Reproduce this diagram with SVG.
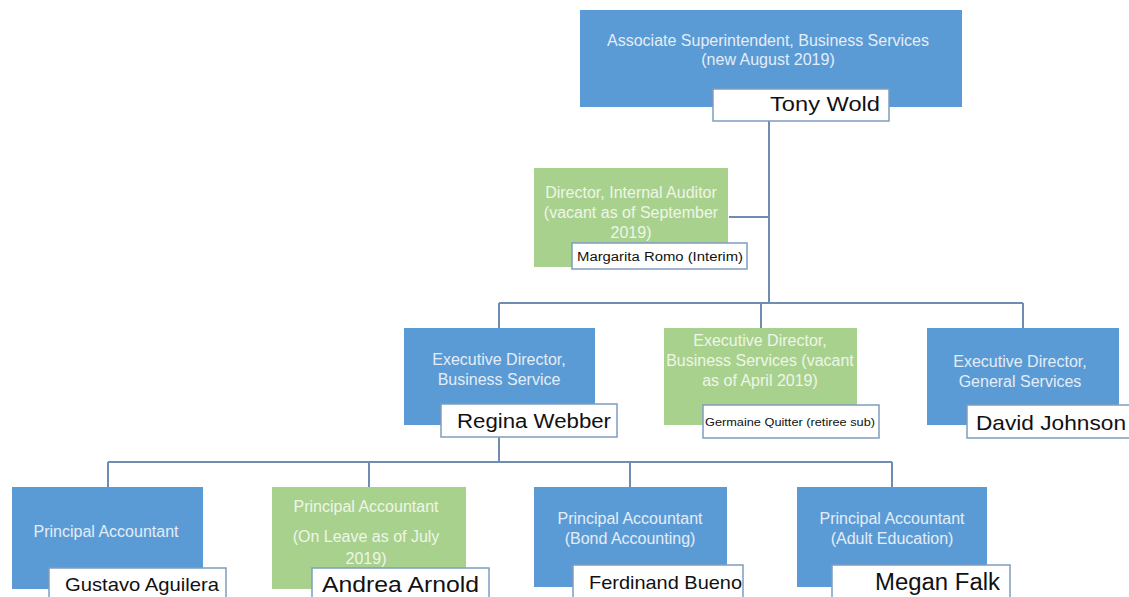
<svg xmlns="http://www.w3.org/2000/svg" width="1129" height="597" viewBox="0 0 1129 597">
<style>
.blue{fill:#5B9BD5}
.green{fill:#A9D18E}
.nb{fill:#fff;stroke:#7F9DBF;stroke-width:1.5}
.t{font-family:"Liberation Sans",Arial,sans-serif;font-size:16px;text-anchor:middle}
.tb{fill:#E4EDF7}
.tg{fill:#EEF6E8}
.n{font-family:"Liberation Sans",Arial,sans-serif;fill:#111}
.c{fill:none;stroke:#6F8DB3;stroke-width:2}
</style>
<rect width="1129" height="597" fill="#fff"/>
<g id="connectors">
<path class="c" d="M769 121V303M729 217H769M499 303H1023M499 303V328M761 303V328M1023 303V328"/>
<path class="c" d="M499 437V462M108 462H892M108 462V487M369 462V487M630 462V487M892 462V487"/>
</g>
<g id="assoc">
<rect class="blue" x="580" y="10" width="382" height="97"/>
<text class="t tb" x="768" y="46">Associate Superintendent,  Business Services</text>
<text class="t tb" x="768" y="65">(new August 2019)</text>
<rect class="nb" x="713" y="89" width="176" height="32"/>
<text class="n" x="770" y="111" font-size="21" textLength="110" lengthAdjust="spacingAndGlyphs">Tony Wold</text>
</g>
<g id="auditor">
<rect class="green" x="534" y="168" width="194" height="99"/>
<text class="t tg" x="631" y="198" font-size="18.5">Director, Internal Auditor</text>
<text class="t tg" x="631" y="218" font-size="18.5">(vacant as of September</text>
<text class="t tg" x="631" y="238" font-size="18.5">2019)</text>
<rect class="nb" x="572" y="243" width="175" height="26"/>
<text class="n" x="577" y="261" font-size="12.5" textLength="166" lengthAdjust="spacingAndGlyphs">Margarita Romo (Interim)</text>
</g>
<g id="exec-business">
<rect class="blue" x="404" y="328" width="191" height="97"/>
<text class="t tb" x="499" y="365">Executive Director,</text>
<text class="t tb" x="499" y="385">Business Service</text>
<rect class="nb" x="441" y="404" width="176" height="33"/>
<text class="n" x="457" y="428" font-size="20" textLength="154" lengthAdjust="spacingAndGlyphs">Regina Webber</text>
</g>
<g id="exec-business-vacant">
<rect class="green" x="664" y="328" width="193" height="97"/>
<text class="t tg" x="760" y="346">Executive Director,</text>
<text class="t tg" x="760" y="366" font-size="17">Business Services  (vacant</text>
<text class="t tg" x="760" y="386" font-size="17">as of April 2019)</text>
<rect class="nb" x="703" y="405" width="176" height="33"/>
<text class="n" x="705" y="426" font-size="10" textLength="170" lengthAdjust="spacingAndGlyphs" fill="#444">Germaine Quitter (retiree sub)</text>
</g>
<g id="exec-general">
<rect class="blue" x="927" y="328" width="192" height="97"/>
<text class="t tb" x="1020" y="367">Executive Director,</text>
<text class="t tb" x="1020" y="387">General Services</text>
<rect class="nb" x="967" y="405" width="170" height="33"/>
<text class="n" x="976" y="430" font-size="21" textLength="150" lengthAdjust="spacingAndGlyphs">David Johnson</text>
</g>
<g id="pa-gustavo">
<rect class="blue" x="12" y="487" width="191" height="102"/>
<text class="t tb" x="106" y="537" font-size="17">Principal Accountant</text>
<rect class="nb" x="49" y="568" width="177" height="34"/>
<text class="n" x="65" y="591" font-size="19" textLength="154" lengthAdjust="spacingAndGlyphs">Gustavo Aguilera</text>
</g>
<g id="pa-andrea">
<rect class="green" x="272" y="487" width="194" height="102"/>
<text class="t tg" x="366" y="512" font-size="17">Principal Accountant</text>
<text class="t tg" x="366" y="542" font-size="17">(On Leave as of July</text>
<text class="t tg" x="366" y="564" font-size="17">2019)</text>
<rect class="nb" x="312" y="568" width="177" height="34"/>
<text class="n" x="322" y="592" font-size="22" textLength="157" lengthAdjust="spacingAndGlyphs">Andrea Arnold</text>
</g>
<g id="pa-ferdinand">
<rect class="blue" x="534" y="487" width="193" height="100"/>
<text class="t tb" x="630" y="524" font-size="17">Principal Accountant</text>
<text class="t tb" x="630" y="544" font-size="17">(Bond Accounting)</text>
<rect class="nb" x="573" y="565" width="170" height="36"/>
<text class="n" x="589" y="589" font-size="19" textLength="153" lengthAdjust="spacingAndGlyphs">Ferdinand Bueno</text>
</g>
<g id="pa-megan">
<rect class="blue" x="797" y="487" width="190" height="100"/>
<text class="t tb" x="892" y="524" font-size="17">Principal Accountant</text>
<text class="t tb" x="892" y="544" font-size="17">(Adult Education)</text>
<rect class="nb" x="832" y="565" width="178" height="36"/>
<text class="n" x="875" y="590" font-size="23" textLength="125" lengthAdjust="spacingAndGlyphs">Megan Falk</text>
</g>
</svg>
